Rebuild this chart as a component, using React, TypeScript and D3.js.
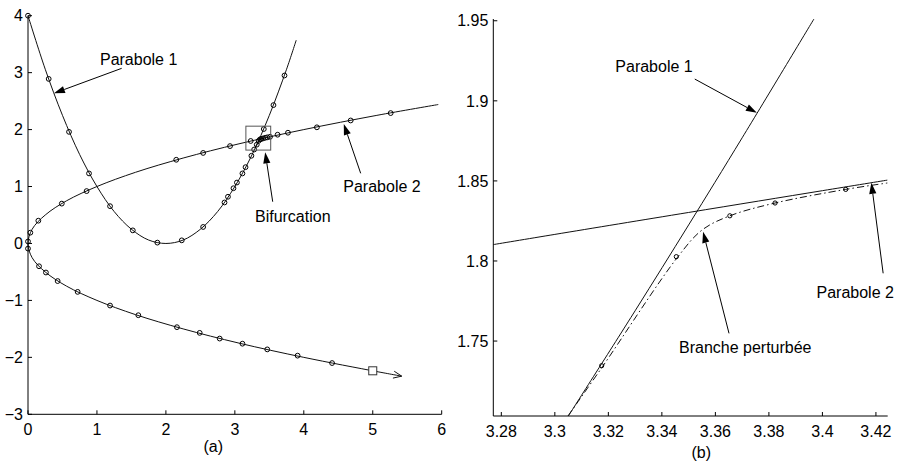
import React from "react";
import * as d3 from "d3";

const W = 903;
const H = 466;
const FONT = "'Liberation Sans', Arial, Helvetica, sans-serif";

// ---- panel (a) ----
// parabole 1
const p1X = [0, 0.25, 0.5, 0.75, 1, 1.25, 1.5, 1.75, 2, 2.25, 2.5, 2.75, 3, 3.25, 3.5, 3.75, 3.89];
const p1Y = [4, 3.06, 2.25, 1.56, 1, 0.56, 0.25, 0.06, 0, 0.06, 0.25, 0.56, 1, 1.56, 2.25, 3.06, 3.57];
// parabole 2 (sideways), top end to the arrow tip
const p2X = [5.95, 5.06, 4, 3.06, 2.25, 1.56, 1, 0.56, 0.25, 0.06, 0, 0.06, 0.25, 0.56, 1, 1.56, 2.25, 3.06, 4, 5.06, 5.42];
const p2Y = [2.44, 2.25, 2, 1.75, 1.5, 1.25, 1, 0.75, 0.5, 0.25, 0, -0.25, -0.5, -0.75, -1, -1.25, -1.5, -1.75, -2, -2.25, -2.33];

// continuation points (circles)
const m1X = [0, 0.3, 0.595, 0.885, 1.19, 1.52, 1.876, 2.23, 2.54, 2.85, 2.9, 2.98, 3.03, 3.11, 3.155, 3.24, 3.28, 3.42, 3.56, 3.72];
const m1Y = [4, 2.89, 1.96, 1.23, 0.655, 0.23, 0.015, 0.055, 0.29, 0.72, 0.82, 0.97, 1.07, 1.23, 1.34, 1.54, 1.65, 2.01, 2.43, 2.95];
const m2X = [0, 0.034, 0.15, 0.49, 0.85, 2.15, 2.54, 2.93, 3.23, 3.62, 3.77, 4.19, 4.68, 5.26];
const m2Y = [0.035, 0.19, 0.4, 0.7, 0.92, 1.47, 1.59, 1.71, 1.8, 1.91, 1.945, 2.04, 2.16, 2.29];
const m3X = [0, 0.16, 0.26, 0.43, 0.72, 1.19, 1.6, 2.16, 2.49, 2.78, 3.11, 3.47, 3.91, 4.41];
const m3Y = [-0.09, -0.4, -0.51, -0.66, -0.85, -1.09, -1.26, -1.47, -1.57, -1.67, -1.76, -1.86, -1.97, -2.1];
const mBX = [3.3175, 3.3454, 3.3654, 3.3823, 3.4087, 3.44, 3.47, 3.51];
const mBY = [1.7346, 1.8027, 1.8282, 1.8362, 1.8447, 1.856, 1.864, 1.873];
const startPt = [5.0, -2.236];
const zoomBox = [3.16, 3.52, 1.64, 2.06];

const aXTicks = [0, 1, 2, 3, 4, 5, 6];
const aYTicks = [-3, -2, -1, 0, 1, 2, 3, 4];

// ---- panel (b) ----
const b1X = [3.3049, 3.33, 3.35, 3.37, 3.3969];
const b1Y = [1.7028, 1.7689, 1.8225, 1.8769, 1.9513];
const b2X = [3.2769, 3.3, 3.35, 3.4, 3.4243];
const b2Y = [1.8102, 1.8166, 1.8303, 1.8439, 1.8505];
const brX = [3.3049, 3.3178, 3.3457, 3.355, 3.3654, 3.3823, 3.4087, 3.4243];
const brY = [1.7032, 1.7340, 1.8020, 1.8193, 1.8282, 1.8362, 1.8447, 1.8487];
const bmX = [3.3175, 3.3454, 3.3654, 3.3823, 3.4087];
const bmY = [1.7346, 1.8027, 1.8282, 1.8362, 1.8447];

const bXTicks = [3.28, 3.3, 3.32, 3.34, 3.36, 3.38, 3.4, 3.42];
const bYTicks = [1.75, 1.8, 1.85, 1.9, 1.95];

const zip = (xs: number[], ys: number[]) => xs.map((x, i) => [x, ys[i]] as [number, number]);
const fmt = (v: number) => String(+v.toFixed(2)).replace("-", "\u2212");

type Note = { text: string; tx: number; ty: number; x0: number; y0: number; x1: number; y1: number };

const notesA: Note[] = [
  { text: "Parabole 1", tx: 1.044, ty: 3.134, x0: 1.359, y0: 3.076, x1: 0.376, y1: 2.637 },
  { text: "Parabole 2", tx: 4.573, ty: 0.909, x0: 4.825, y0: 1.232, x1: 4.58, y1: 2.1 },
  { text: "Bifurcation", tx: 3.292, ty: 0.37, x0: 3.549, y0: 0.733, x1: 3.44, y1: 1.6 },
];
const notesB: Note[] = [
  { text: "Parabole 1", tx: 3.3226, ty: 1.9183, x0: 3.3523, y0: 1.9136, x1: 3.3755, y1: 1.8925 },
  { text: "Parabole 2", tx: 3.3978, ty: 1.777, x0: 3.4227, y0: 1.7923, x1: 3.4183, y1: 1.8488 },
  { text: "Branche perturbée", tx: 3.3464, ty: 1.7425, x0: 3.3651, y0: 1.7548, x1: 3.3554, y1: 1.8182 },
];

const Arrow = ({ n, x, y }: { n: Note; x: d3.ScaleLinear<number, number>; y: d3.ScaleLinear<number, number> }) => {
  const ax = x(n.x0), ay = y(n.y0), bx = x(n.x1), by = y(n.y1);
  const ang = Math.atan2(by - ay, bx - ax);
  const L = 11, hw = 3.6;
  const cx = bx - L * Math.cos(ang), cy = by - L * Math.sin(ang);
  const head = [
    [bx, by],
    [cx + hw * Math.sin(ang), cy - hw * Math.cos(ang)],
    [cx - hw * Math.sin(ang), cy + hw * Math.cos(ang)],
  ];
  return (
    <g>
      <line x1={ax} y1={ay} x2={cx} y2={cy} stroke="#000" strokeWidth={1} />
      <polygon points={head.map((p) => p.join(",")).join(" ")} fill="#000" />
      <text x={x(n.tx)} y={y(n.ty)} fontSize={16} fill="#000">{n.text}</text>
    </g>
  );
};

export default function App() {
  // panel (a) scales
  const xa = d3.scaleLinear().domain([0, 6]).range([28, 441.7]);
  const ya = d3.scaleLinear().domain([-3, 4]).range([414.3, 15.7]);
  // panel (b) scales
  const xb = d3.scaleLinear().domain([3.277, 3.4244]).range([493.3, 887.7]);
  const yb = d3.scaleLinear().domain([1.7032, 1.9511]).range([416, 19]);

  const lineA = d3.line().x((d) => xa(d[0])).y((d) => ya(d[1])).curve(d3.curveCatmullRom);
  const lineB = d3.line().x((d) => xb(d[0])).y((d) => yb(d[1])).curve(d3.curveCatmullRom);

  const circlesA = [zip(m1X, m1Y), zip(m2X, m2Y), zip(m3X, m3Y), zip(mBX, mBY)].flat();

  // arrow at end of lower branch
  const tip = p2X.length - 1;
  const tx = xa(p2X[tip]), ty = ya(p2Y[tip]);
  const px = xa(p2X[tip - 1]), py = ya(p2Y[tip - 1]);
  const ang = Math.atan2(ty - py, tx - px);
  const openHead = [
    [tx - 9 * Math.cos(ang - 0.4), ty - 9 * Math.sin(ang - 0.4)],
    [tx, ty],
    [tx - 9 * Math.cos(ang + 0.4), ty - 9 * Math.sin(ang + 0.4)],
  ];

  const [bx0, bx1] = xb.range();
  const [by0, by1] = yb.range();

  return (
    <svg width={W} height={H} style={{ position: "absolute", left: 0, top: 0, background: "#fff" }} fontFamily={FONT}>
      <defs>
        <clipPath id="clipB">
          <rect x={bx0} y={by1} width={bx1 - bx0} height={by0 - by1} />
        </clipPath>
      </defs>

      {/* ---------- panel (a) ---------- */}
      <g>
        <path d={lineA(zip(p1X, p1Y)) || ""} fill="none" stroke="#111" strokeWidth={1} />
        <path d={lineA(zip(p2X, p2Y)) || ""} fill="none" stroke="#111" strokeWidth={1} />
        <path d={lineA(zip(brX, brY)) || ""} fill="none" stroke="#111" strokeWidth={1.2} />
        <polyline points={openHead.map((p) => p.join(",")).join(" ")} fill="none" stroke="#111" strokeWidth={1} />
        {circlesA.map((d, i) => (
          <circle key={i} cx={xa(d[0])} cy={ya(d[1])} r={2.4} fill="none" stroke="#000" strokeWidth={1} />
        ))}
        <rect x={xa(startPt[0]) - 4} y={ya(startPt[1]) - 4} width={8} height={8} fill="#fff" stroke="#333" strokeWidth={1} />
        <rect
          x={xa(zoomBox[0])}
          y={ya(zoomBox[3])}
          width={xa(zoomBox[1]) - xa(zoomBox[0])}
          height={ya(zoomBox[2]) - ya(zoomBox[3])}
          fill="none"
          stroke="#555"
          strokeWidth={1}
        />
        {/* axes */}
        <line x1={xa(0)} x2={xa(6)} y1={ya(-3)} y2={ya(-3)} stroke="#000" />
        <line x1={xa(0)} x2={xa(0)} y1={ya(-3)} y2={ya(4)} stroke="#000" />
        {aXTicks.map((t) => (
          <g key={t}>
            <line x1={xa(t)} x2={xa(t)} y1={ya(-3)} y2={ya(-3) - 4} stroke="#000" />
            <text x={xa(t)} y={ya(-3) + 21} fontSize={16} textAnchor="middle">{fmt(t)}</text>
          </g>
        ))}
        {aYTicks.map((t) => (
          <g key={t}>
            <line x1={xa(0)} x2={xa(0) + 4} y1={ya(t)} y2={ya(t)} stroke="#000" />
            <text x={xa(0) - 5} y={ya(t) + 5.7} fontSize={16} textAnchor="end">{fmt(t)}</text>
          </g>
        ))}
        {notesA.map((n) => <Arrow key={n.text} n={n} x={xa} y={ya} />)}
        <text x={213.3} y={452} fontSize={16} textAnchor="middle">(a)</text>
      </g>

      {/* ---------- panel (b) ---------- */}
      <g>
        <g clipPath="url(#clipB)">
          <path d={lineB(zip(b1X, b1Y)) || ""} fill="none" stroke="#111" strokeWidth={1} />
          <path d={lineB(zip(b2X, b2Y)) || ""} fill="none" stroke="#111" strokeWidth={1} />
          <path d={lineB(zip(brX, brY)) || ""} fill="none" stroke="#111" strokeWidth={1} strokeDasharray="7,3,1.5,3" />
        </g>
        {zip(bmX, bmY).map((d, i) => (
          <circle key={i} cx={xb(d[0])} cy={yb(d[1])} r={2.1} fill="none" stroke="#000" strokeWidth={1} />
        ))}
        <line x1={bx0} x2={bx1} y1={by0} y2={by0} stroke="#000" />
        <line x1={bx0} x2={bx0} y1={by0} y2={by1} stroke="#000" />
        {bXTicks.map((t) => (
          <g key={t}>
            <line x1={xb(t)} x2={xb(t)} y1={by0} y2={by0 - 4} stroke="#000" />
            <text x={xb(t)} y={by0 + 21} fontSize={16} textAnchor="middle">{fmt(t)}</text>
          </g>
        ))}
        {bYTicks.map((t) => (
          <g key={t}>
            <line x1={bx0} x2={bx0 + 4} y1={yb(t)} y2={yb(t)} stroke="#000" />
            <text x={bx0 - 5} y={yb(t) + 5.7} fontSize={16} textAnchor="end">{fmt(t)}</text>
          </g>
        ))}
        {notesB.map((n) => <Arrow key={n.text} n={n} x={xb} y={yb} />)}
        <text x={701.3} y={458} fontSize={16} textAnchor="middle">(b)</text>
      </g>
    </svg>
  );
}
